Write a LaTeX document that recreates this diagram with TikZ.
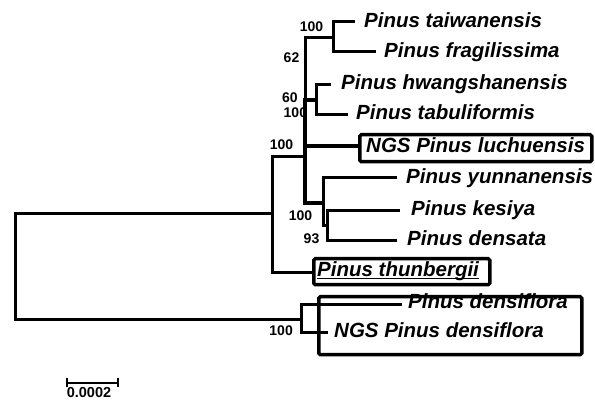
\documentclass[tikz,border=0pt]{standalone}
\usepackage{fontspec}
\setmainfont{Liberation Sans}
\begin{document}
\begin{tikzpicture}[x=1pt,y=-1pt,
  branch/.style={line width=3pt},
  thickbranch/.style={line width=4pt},
  taxon/.style={anchor=base west,inner sep=0pt,font=\fontsize{20.5}{24}\selectfont\bfseries\itshape},
  boot/.style={inner sep=0pt,font=\fontsize{14}{16}\selectfont\bfseries},
  taxonbox/.style={draw,line width=3.5pt,rounded corners=1.5pt,inner sep=0pt,anchor=north west}]
\useasboundingbox (0,0) rectangle (595,403);
% bootstrap values
\node[boot] (b1) at (311.5,27) {100};
\node[boot] (b2) at (291.5,58) {62};
\node[boot] (b3) at (290,97.5) {60};
\node[boot,anchor=west] (b4) at (283.5,112.5) {100};
\node[boot] (b5) at (281.5,144.5) {100};
\node[boot] (b6) at (300.5,215.5) {100};
\node[boot] (b7) at (311.5,238.5) {93};
\node[boot,anchor=east] (b8) at (293,331) {100};
% taxa
\node[taxon] (tai) at (364,28) {Pinus taiwanensis};
\node[taxon] (fra) at (384,58) {Pinus fragilissima};
\node[taxon] (hwa) at (341,90) {Pinus hwangshanensis};
\node[taxon] (tab) at (356,120) {Pinus tabuliformis};
\node[taxon] (luc) at (366,153) {NGS Pinus luchuensis};
\node[taxon] (yun) at (406,184) {Pinus yunnanensis};
\node[taxon] (kes) at (411,216) {Pinus kesiya};
\node[taxon] (den) at (407,246) {Pinus densata};
\node[taxon] (thu) at (317,277) {Pinus thunbergii};
\node[taxon] (dfl) at (408,309) {Pinus densiflora};
\node[taxon] (ndf) at (334,338) {NGS Pinus densiflora};
\draw[line width=1.2pt] ([yshift=-1.5pt]thu.base west) -- ([yshift=-1.5pt]thu.base east);
% boxes
\node[taxonbox,minimum width=232pt,minimum height=27pt] (boxL) at (358,133) {};
\node[taxonbox,minimum width=176pt,minimum height=26pt] (boxT) at (312,257) {};
\node[taxonbox,minimum width=263pt,minimum height=58pt] (boxD) at (317,295) {};
% internal nodes
\coordinate (root) at (15,267);
\coordinate (A) at (272,214);
\coordinate (B) at (305,157);
\coordinate (C) at (333,38);
\coordinate (D) at (316,100);
\coordinate (E) at (323,203);
\coordinate (F) at (327,226);
\coordinate (G) at (301,320);
% branch ends
\coordinate (eTai) at (355,22);
\coordinate (eFra) at (376,52);
\coordinate (eHwa) at (331,85);
\coordinate (eTab) at (348,115);
\coordinate (eLuc) at (358,146);
\coordinate (eYun) at (397,178);
\coordinate (eKes) at (400,211);
\coordinate (eDen) at (397,241);
\coordinate (eThu) at (312,273);
\coordinate (eDfl) at (402,305);
\coordinate (eNdf) at (328,333);
% branches
\draw[branch] (root) |- (A);
\draw[branch] (root) |- (G);
\draw[branch] (A) |- (B);
\draw[branch] (A) |- (eThu);
\draw[branch] (B) |- (C);
\draw[thickbranch] (B) |- (D);
\draw[thickbranch] (B) |- (eLuc);
\draw[thickbranch] (B) |- (E);
\draw[branch] (C) |- (eTai);
\draw[branch] (C) |- (eFra);
\draw[branch] (D) |- (eHwa);
\draw[branch] (D) |- (eTab);
\draw[branch] (E) |- (eYun);
\draw[branch] (E) |- (F);
\draw[branch] (F) |- (eKes);
\draw[branch] (F) |- (eDen);
\draw[branch] (G) |- (eDfl);
\draw[branch] (G) |- (eNdf);
% scale bar
\coordinate (sbL) at (67,383);
\coordinate (sbR) at (118,383);
\draw[line width=2pt] (sbL) -- (sbR);
\draw[line width=2pt] ([yshift=4.5pt]sbL) -- ([yshift=-4.5pt]sbL);
\draw[line width=2pt] ([yshift=4.5pt]sbR) -- ([yshift=-4.5pt]sbR);
\node[boot,anchor=base,font=\fontsize{14.5}{16}\selectfont\bfseries] (sbt) at (89,397.5) {0.0002};
\end{tikzpicture}
\end{document}
